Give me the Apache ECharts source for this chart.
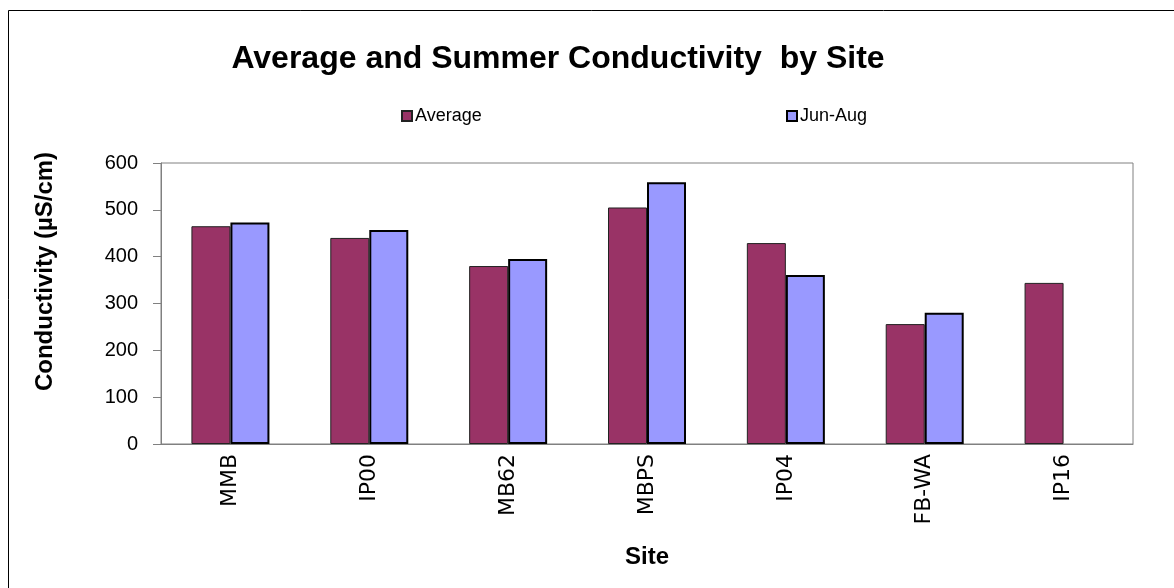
<!DOCTYPE html>
<html>
<head>
<meta charset="utf-8">
<script src="https://cdn.jsdelivr.net/npm/echarts@6/dist/echarts.min.js"></script>
<style>
	html, body { margin: 0; padding: 0; background: #fff; }
	#chart { width: 1174px; height: 588px; }
</style>
</head>
<body>
<div id="chart"></div>
<script>
var sites = ['MMB', 'IP00', 'MB62', 'MBPS', 'IP04', 'FB-WA', 'IP16'];
var averageVals = [465, 440, 380, 505, 429, 256, 344];
var summerVals = [473, 457, 395, 559, 361, 280, '-'];
var yTicks = { min: 0, max: 600, interval: 100 };

var font = 'Arial, "Liberation Sans", sans-serif';

var chart = echarts.init(document.getElementById('chart'));
chart.setOption({
	backgroundColor: '#fff',
	animation: false,
	title: {
		text: 'Average and Summer Conductivity  by Site',
		left: 558,
		textAlign: 'center',
		top: 43,
		padding: 0,
		textStyle: { fontFamily: font, fontSize: 32, fontWeight: 'bold', color: '#000' }
	},
	legend: [{
		data: ['Average'],
		left: 401,
		top: 107,
		padding: 0,
		itemWidth: 10,
		itemHeight: 10,
		icon: 'rect',
		textStyle: { fontFamily: font, fontSize: 18, color: '#000', padding: [0, 0, 0, -2] }
	}, {
		data: ['Jun-Aug'],
		left: 786,
		top: 107,
		padding: 0,
		itemWidth: 10,
		itemHeight: 10,
		icon: 'rect',
		textStyle: { fontFamily: font, fontSize: 18, color: '#000', padding: [0, 0, 0, -2] }
	}],
	grid: {
		left: 161,
		right: 41,
		top: 163,
		bottom: 144,
		show: true,
		borderColor: '#808080',
		borderWidth: 1
	},
	xAxis: {
		type: 'category',
		data: sites,
		name: 'Site',
		nameLocation: 'middle',
		nameGap: 101,
		nameTextStyle: { fontFamily: font, fontSize: 24, fontWeight: 'bold', color: '#000' },
		axisLine: { lineStyle: { color: '#808080', width: 1 } },
		axisTick: { length: 8, lineStyle: { color: '#808080' } },
		axisLabel: { rotate: 90, margin: 10, fontFamily: '"DejaVu Sans", sans-serif', fontSize: 22, color: '#000' }
	},
	yAxis: {
		type: 'value',
		min: yTicks.min,
		max: yTicks.max,
		interval: yTicks.interval,
		name: 'Conductivity (µS/cm)',
		nameLocation: 'middle',
		nameGap: 104,
		nameTextStyle: { fontFamily: font, fontSize: 24, fontWeight: 'bold', color: '#000', padding: [0, 0, 0, 64] },
		axisLine: { show: true, lineStyle: { color: '#808080', width: 1 } },
		axisTick: { show: true, length: 8, lineStyle: { color: '#808080' } },
		axisLabel: { margin: 23, fontFamily: font, fontSize: 20, color: '#000' },
		splitLine: { show: false }
	},
	series: [{
		name: 'Average',
		type: 'bar',
		data: averageVals,
		barWidth: 39,
		barGap: '0%',
		itemStyle: { color: '#993366', borderColor: '#222', borderWidth: 1 }
	}, {
		name: 'Jun-Aug',
		type: 'bar',
		data: summerVals,
		barWidth: 39,
		barGap: '0%',
		itemStyle: { color: '#9999FF', borderColor: '#000', borderWidth: 2 }
	}],
	graphic: [{
		type: 'rect',
		shape: { x: 8.5, y: 10.5, width: 1200, height: 700 },
		style: { fill: 'none', stroke: '#000', lineWidth: 1 },
		silent: true
	}]
});
</script>
</body>
</html>
